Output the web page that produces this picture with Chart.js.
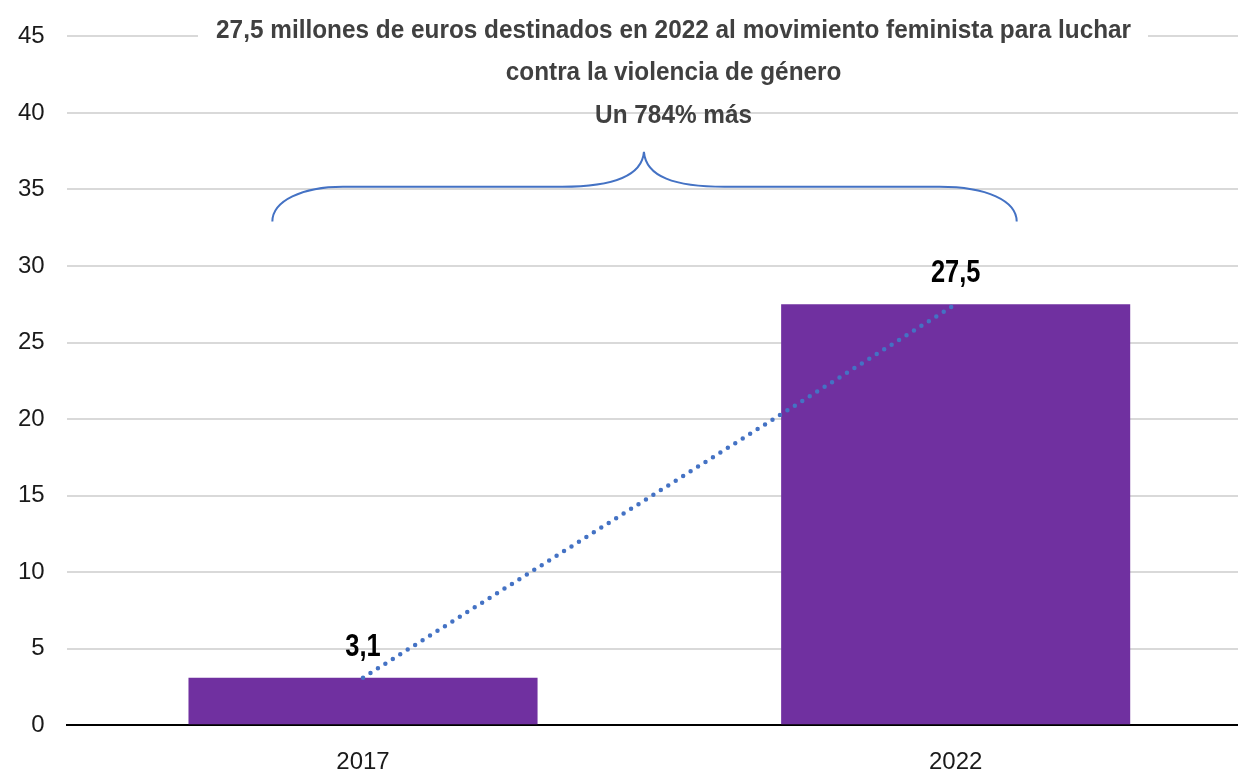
<!DOCTYPE html>
<html>
<head>
<meta charset="utf-8">
<script src="https://cdn.jsdelivr.net/npm/chart.js@4"></script>
<style>
  html, body { margin: 0; padding: 0; background: #fff; overflow: hidden; }
  #wrap { width: 1252px; height: 777px; }
</style>
</head>
<body>
<div id="wrap"><canvas id="myChart"></canvas></div>
<script>
let years = ["2017", "2022"];
let millones = [3.1, 27.5];
let yTicks = [0, 5, 10, 15, 20, 25, 30, 35, 40, 45];
let titulo = [
    "27,5 millones de euros destinados en 2022 al movimiento feminista para luchar",
    "contra la violencia de género",
    "Un 784% más"
];

let fuente = "'Liberation Sans', Arial, sans-serif";
let morado = "#7030A0";
let azul = "#4472C4";

// texto estrechado (la fuente original es condensada)
let textoEstrecho = (ctx, txt, x, y, escala) => {
    ctx.save();
    ctx.translate(x, y);
    ctx.scale(escala, 1);
    ctx.fillText(txt, 0, 0);
    ctx.restore();
};

// etiquetas 3,1 / 27,5 encima de las barras
let etiquetas = {
    id: "etiquetas",
    afterDatasetsDraw(chart) {
        let ctx = chart.ctx;
        let meta = chart.getDatasetMeta(1);
        ctx.save();
        ctx.font = "bold 31px " + fuente;
        ctx.fillStyle = "#000";
        ctx.textAlign = "center";
        ctx.textBaseline = "alphabetic";
        meta.data.forEach((bar, i) => {
            let txt = String(millones[i]).replace(".", ",");
            textoEstrecho(ctx, txt, bar.x, bar.y - 22, 0.82);
        });
        ctx.restore();
    }
};

// llave y titulo de arriba
let llave = {
    id: "llave",
    afterDraw(chart) {
        let ctx = chart.ctx;
        let x = chart.scales.x;
        let y = chart.scales.y;
        let px = v => x.getPixelForValue(v);
        let py = v => y.getPixelForValue(v);

        let xL = px(-0.153), xR = px(1.103), xT = px(0.474);
        let xa = px(-0.034), xb = px(0.336), xc = px(0.610), xd = px(0.973);
        let yEnd = py(32.9), yMid = py(35.18), yTip = py(37.46);

        ctx.save();
        ctx.strokeStyle = azul;
        ctx.lineWidth = 2;
        ctx.beginPath();
        ctx.moveTo(xL, yEnd);
        ctx.bezierCurveTo(xL, yMid + 14, xL + 30, yMid, xa, yMid);
        ctx.lineTo(xb, yMid);
        ctx.bezierCurveTo(xb + 50, yMid, xT - 2, yMid - 10, xT, yTip);
        ctx.bezierCurveTo(xT + 2, yMid - 10, xc - 50, yMid, xc, yMid);
        ctx.lineTo(xd, yMid);
        ctx.bezierCurveTo(xR - 30, yMid, xR, yMid + 14, xR, yEnd);
        ctx.stroke();

        // caja blanca detras de la primera linea del titulo
        let cx = px(0.524);
        ctx.fillStyle = "#fff";
        ctx.fillRect(198, 20, 950, 26);

        // estrechar para que la primera linea mida lo mismo que en la imagen
        ctx.font = "bold 26px " + fuente;
        let escala = Math.min(1, 915 / ctx.measureText(titulo[0]).width);
        ctx.fillStyle = "#404040";
        ctx.textAlign = "center";
        ctx.textBaseline = "middle";
        textoEstrecho(ctx, titulo[0], cx, 31, escala);
        textoEstrecho(ctx, titulo[1], cx, 73, escala);
        textoEstrecho(ctx, titulo[2], cx, 116, escala);
        ctx.restore();
    }
};

let grafica = document.getElementById("myChart").getContext("2d");
let myChart = new Chart(grafica, {
    type: "bar",
    data: {
        labels: years,
        datasets: [{
            type: "line",
            data: millones,
            borderColor: azul,
            borderWidth: 4.5,
            borderDash: [0, 8.8],
            borderCapStyle: "round",
            pointRadius: 0,
            fill: false,
            order: 0
        }, {
            type: "bar",
            data: millones,
            backgroundColor: morado,
            categoryPercentage: 1,
            barPercentage: 0.589,
            order: 1
        }]
    },
    options: {
        responsive: true,
        maintainAspectRatio: false,
        animation: false,
        layout: { padding: { top: 34, left: 18, right: 0, bottom: 0 } },
        plugins: {
            legend: { display: false },
            tooltip: { enabled: false }
        },
        scales: {
            x: {
                grid: { display: false, drawTicks: false },
                border: { display: true, color: "#000", width: 2 },
                ticks: {
                    padding: 23,
                    color: "#1a1a1a",
                    font: { family: fuente, size: 24 }
                },
                // chart.js cuenta el padding dos veces
                afterFit: axis => { axis.height -= axis.options.ticks.padding; }
            },
            y: {
                min: 0,
                max: 45,
                afterBuildTicks: axis => { axis.ticks = yTicks.map(v => ({ value: v })); },
                grid: { color: "#d9d9d9", lineWidth: 2, drawTicks: false },
                border: { display: false },
                ticks: {
                    padding: 22,
                    color: "#1a1a1a",
                    font: { family: fuente, size: 24 }
                },
                afterFit: axis => { axis.width -= axis.options.ticks.padding; }
            }
        }
    },
    plugins: [etiquetas, llave]
});
</script>
</body>
</html>
